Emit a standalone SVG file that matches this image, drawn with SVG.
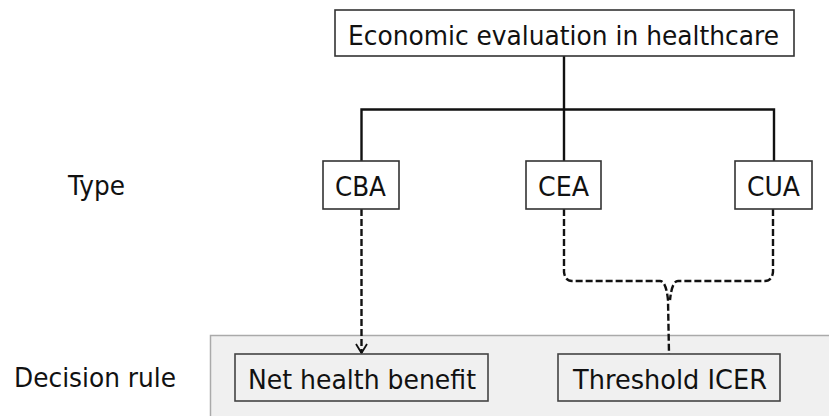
<svg xmlns="http://www.w3.org/2000/svg" width="829" height="416" viewBox="0 0 829 416">
<defs>
<style>
text{font-family:"DejaVu Sans","Liberation Sans",sans-serif;font-size:27px;fill:#111111;}
.box{fill:#ffffff;stroke:#333333;stroke-width:1.6;}
.gbox{fill:#f0f0f0;stroke:#444444;stroke-width:1.6;}
.solid{fill:none;stroke:#111111;stroke-width:2.4;}
.dash{fill:none;stroke:#111111;stroke-width:2.4;stroke-dasharray:7 3;}
</style>
<marker id="arr" markerWidth="14" markerHeight="14" refX="11" refY="7" orient="auto" markerUnits="userSpaceOnUse" viewBox="0 0 14 14">
<path d="M2,1.5 L11,7 L2,12.5" fill="none" stroke="#111" stroke-width="1.8"/>
</marker>
</defs>
<rect width="829" height="416" fill="#ffffff"/>
<rect x="210.5" y="335.5" width="630" height="90" fill="#f0f0f0" stroke="#aaaaaa" stroke-width="1.5"/>
<g id="labels">
<text x="68" y="195" textLength="57" lengthAdjust="spacingAndGlyphs">Type</text>
<text x="14" y="387" textLength="162" lengthAdjust="spacingAndGlyphs">Decision rule</text>
</g>
<g id="connectors">
<path class="solid" d="M564,56 V109.5 M361.5,161 V109.5 H774 V161 M564,109.5 V161"/>
<path class="dash" d="M361.5,209 V353" marker-end="url(#arr)"/>
<path class="dash" d="M564,209 V272 Q565,281 572,281 H660 Q666,281 668,300 L669,354"/>
<path class="dash" d="M773,209 V272 Q772,281 765,281 H678 Q672,281 670,300"/>
</g>
<g id="root">
<rect class="box" x="335" y="10" width="459" height="46"/>
<text x="348" y="45" textLength="431" lengthAdjust="spacingAndGlyphs">Economic evaluation in healthcare</text>
</g>
<g id="cba">
<rect class="box" x="323" y="161" width="76" height="48"/>
<text x="335" y="196" textLength="51" lengthAdjust="spacingAndGlyphs">CBA</text>
</g>
<g id="cea">
<rect class="box" x="526" y="161" width="75" height="48"/>
<text x="538" y="196" textLength="51" lengthAdjust="spacingAndGlyphs">CEA</text>
</g>
<g id="cua">
<rect class="box" x="735" y="161" width="77" height="48"/>
<text x="747" y="196" textLength="53" lengthAdjust="spacingAndGlyphs">CUA</text>
</g>
<g id="nhb">
<rect class="gbox" x="235" y="354" width="253" height="47"/>
<text x="248" y="389" textLength="228" lengthAdjust="spacingAndGlyphs">Net health benefit</text>
</g>
<g id="icer">
<rect class="gbox" x="558" y="354" width="222" height="47"/>
<text x="573" y="389" textLength="194" lengthAdjust="spacingAndGlyphs">Threshold ICER</text>
</g>
</svg>
